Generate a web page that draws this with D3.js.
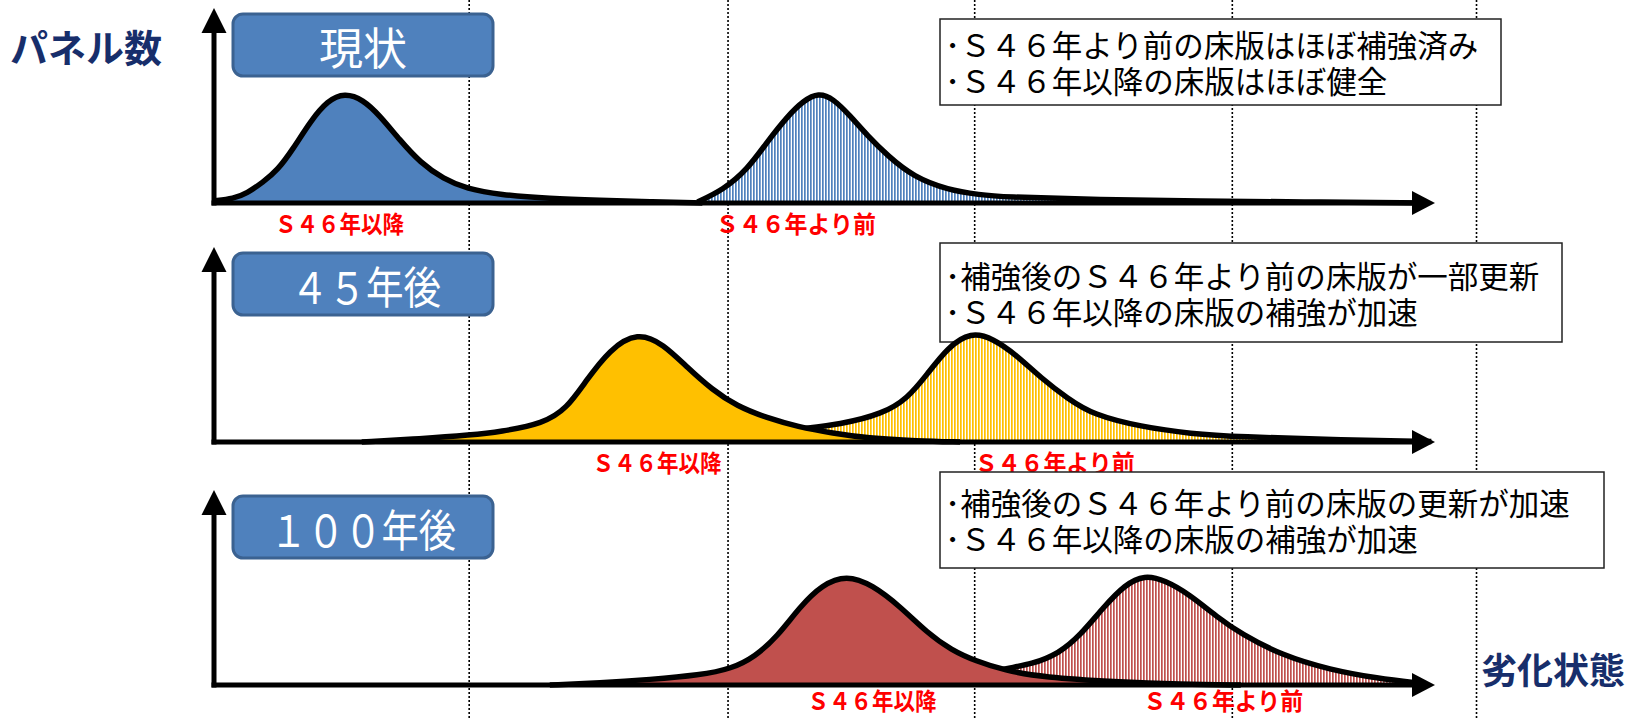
<!DOCTYPE html>
<html>
<head>
<meta charset="utf-8">
<script src="https://cdn.jsdelivr.net/npm/d3@7"></script>
<style>
  body { margin: 0; background: #fff; }
  svg { display: block; }
</style>
</head>
<body>
<div id="chart"></div>
<script>
const W = 1644, H = 718

// badge text of each panel
const stages = ["現状", "４５年後", "１００年後"]
// dotted guide lines, on the deterioration axis (0 = origin, 100 = arrow tip)
const guideLines = [20.9, 42.1, 62.3, 83.4, 103.4]
const groupNames = ["Ｓ４６年以降", "Ｓ４６年より前"]

// [deterioration, panel count (peak = 100)]
const nowAfter = [[0,2],[1.6,4],[2.7,9],[4.0,19],[5.2,30],[6.5,50],[7.9,75],[9.3,94],[10.7,101],[12.2,95],[13.6,80],[15.2,58],[16.9,37],[18.8,22],[20.7,13],[23.4,7.5],[27.5,4],[31.6,2.5],[35.7,1.2],[40,0]]
const nowBefore = [[39.6,1],[41.7,12],[43.7,31],[45.3,56],[47.0,80],[48.3,94],[49.5,101],[50.7,96],[52.1,80],[53.5,62],[55.2,43],[57.3,24],[60.1,12],[62.8,7.5],[64.4,5.6],[72.6,3],[80.8,1.8],[89.0,1],[98.9,0]]

const y45After = [[12.1,0],[16.9,3],[21.1,6.5],[23.4,9.3],[27.0,17],[28.9,31],[30.4,55],[32.4,85],[34.7,101],[36.8,90],[38.8,68],[40.8,48],[42.8,33],[45.3,22],[47.8,14],[50.7,8],[53.5,3.5],[57.6,1],[61.1,0]]
const y45Before = [[44,6],[47.8,12],[51.3,16],[54.8,26],[56.8,40],[58.4,62],[60.1,87],[62.0,101],[63.8,95],[65.8,79],[67.7,59],[69.9,40],[72.0,25],[75.9,14],[80.0,7.5],[84.1,4.7],[91.5,2],[99.7,0.5]]

const y100After = [[27.5,0],[31.6,2],[35.7,5],[39.8,9],[42.4,15],[44.3,26],[46.1,44],[48.0,72],[49.8,92],[51.8,101],[53.9,92],[56.2,72],[58.4,48],[60.4,32],[62.4,22],[64.7,13.5],[68.0,7],[73.7,3],[79.3,0.6],[84.1,0]]
const y100Before = [[62.4,8],[64.7,15],[67.0,19],[69.2,29],[70.9,45],[72.9,72],[74.6,92],[76.2,101],[77.9,96],[79.9,83],[82.2,62],[84.1,47],[87.5,27],[91.4,14],[95.3,6],[98.8,1.5]]

const notes = [
  ["･Ｓ４６年より前の床版はほぼ補強済み", "･Ｓ４６年以降の床版はほぼ健全"],
  ["･補強後のＳ４６年より前の床版が一部更新", "･Ｓ４６年以降の床版の補強が加速"],
  ["･補強後のＳ４６年より前の床版の更新が加速", "･Ｓ４６年以降の床版の補強が加速"]
]
const fillColors = ["#4F81BD", "#FFC000", "#C0504D"]

// layout
const axisX0 = 214, axisX1 = 1435
const baselines = [203, 442, 685]
const labelDy = [19, 19, 14]
const panelH = 195, peakH = 109
const badgeW = [null, 150, 186]
const groupW = [129, 160]
const boxY = [19, 243, 472], boxH = [86, 99, 96], boxW = [561, 622, 664]
const labelAt = [[5.0, 41.1], [31.0, 62.3], [48.6, 76.1]]
const font = "'Noto Sans CJK JP', 'Noto Sans', sans-serif"

const series = [[nowAfter, nowBefore], [y45After, y45Before], [y100After, y100Before]]

let svg = d3.select("#chart").append("svg")
    .attr("width", W)
    .attr("height", H)
    .style("background", "#fff")

let x = d3.scaleLinear().domain([0, 100]).range([axisX0, axisX1])

let defs = svg.append("defs")
fillColors.forEach((c, i) => {
    let pat = defs.append("pattern")
        .attr("id", "stripe" + i)
        .attr("patternUnits", "userSpaceOnUse")
        .attr("width", 3)
        .attr("height", 4)
    pat.append("rect").attr("width", 3).attr("height", 4).attr("fill", "#fff")
    pat.append("rect").attr("width", 1.7).attr("height", 4).attr("fill", c)
})

// dotted guides
svg.append("g").selectAll("line")
    .data(guideLines)
    .join("line")
    .attr("x1", d => x(d)).attr("x2", d => x(d))
    .attr("y1", 0).attr("y2", H)
    .attr("stroke", "#000")
    .attr("stroke-width", 1.6)
    .attr("stroke-dasharray", "2,2")

series.forEach((pair, i) => {
    const base = baselines[i]
    let y = d3.scaleLinear().domain([0, 100]).range([base, base - peakH])
    let area = d3.area().x(d => x(d[0])).y0(base).y1(d => y(d[1])).curve(d3.curveBasis)
    let line = d3.line().x(d => x(d[0])).y(d => y(d[1])).curve(d3.curveBasis)
    let g = svg.append("g")

    // red group labels under the axis
    labelAt[i].forEach((lx, k) => {
        g.append("text")
            .attr("x", x(lx))
            .attr("y", base + labelDy[i])
            .attr("dominant-baseline", "central")
            .attr("font-family", font)
            .attr("font-weight", "bold")
            .attr("font-size", 24)
            .attr("fill", "#FF0000")
            .attr("textLength", groupW[k])
            .attr("lengthAdjust", "spacingAndGlyphs")
            .text(groupNames[k])
    })

    // note box
    g.append("rect")
        .attr("x", 940).attr("y", boxY[i])
        .attr("width", boxW[i]).attr("height", boxH[i])
        .attr("fill", "#fff")
        .attr("stroke", "#222")
        .attr("stroke-width", 1.5)
    notes[i].forEach((t, k) => {
        g.append("text")
            .attr("x", 945)
            .attr("y", boxY[i] + boxH[i] / 2 + (k ? 18 : -18))
            .attr("dominant-baseline", "central")
            .attr("font-family", font)
            .attr("font-size", 30.5)
            .attr("fill", "#000")
            .text(t)
    })

    // hatched group first, solid group on top
    g.append("path").datum(pair[1]).attr("d", area).attr("fill", "url(#stripe" + i + ")")
    g.append("path").datum(pair[1]).attr("d", line)
        .attr("fill", "none").attr("stroke", "#000").attr("stroke-width", 5.5)
    g.append("path").datum(pair[0]).attr("d", area).attr("fill", fillColors[i])
    g.append("path").datum(pair[0]).attr("d", line)
        .attr("fill", "none").attr("stroke", "#000").attr("stroke-width", 5.5)

    // axes with arrow heads
    const top = base - panelH
    g.append("line")
        .attr("x1", axisX0).attr("x2", axisX0)
        .attr("y1", base + 2.5).attr("y2", top + 20)
        .attr("stroke", "#000").attr("stroke-width", 5)
    g.append("path")
        .attr("d", `M${axisX0},${top}L${axisX0 - 12.5},${top + 25}L${axisX0 + 12.5},${top + 25}Z`)
        .attr("fill", "#000")
    g.append("line")
        .attr("x1", axisX0 - 2.5).attr("x2", axisX1 - 18)
        .attr("y1", base).attr("y2", base)
        .attr("stroke", "#000").attr("stroke-width", 5)
    g.append("path")
        .attr("d", `M${axisX1},${base}L${axisX1 - 23},${base - 12}L${axisX1 - 23},${base + 12}Z`)
        .attr("fill", "#000")

    // stage badge
    const by = top + 6
    g.append("rect")
        .attr("x", 233).attr("y", by)
        .attr("width", 260).attr("height", 62)
        .attr("rx", 10)
        .attr("fill", "#4F81BD")
        .attr("stroke", "#3B6291")
        .attr("stroke-width", 3)
    let bt = g.append("text")
        .attr("x", i == 1 ? 366 : 363)
        .attr("y", by + 32)
        .attr("text-anchor", "middle")
        .attr("dominant-baseline", "central")
        .attr("font-family", font)
        .attr("font-size", 44)
        .attr("fill", "#fff")
        .text(stages[i])
    if (badgeW[i]) bt.attr("textLength", badgeW[i]).attr("lengthAdjust", "spacingAndGlyphs")
})

// axis titles
svg.append("text")
    .attr("x", 10).attr("y", 45)
    .attr("dominant-baseline", "central")
    .attr("font-family", font)
    .attr("font-weight", "bold")
    .attr("font-size", 38)
    .attr("fill", "#172E6B")
    .text("パネル数")
svg.append("text")
    .attr("x", 1481).attr("y", 668)
    .attr("dominant-baseline", "central")
    .attr("font-family", font)
    .attr("font-weight", "bold")
    .attr("font-size", 36)
    .attr("fill", "#172E6B")
    .text("劣化状態")
</script>
</body>
</html>
